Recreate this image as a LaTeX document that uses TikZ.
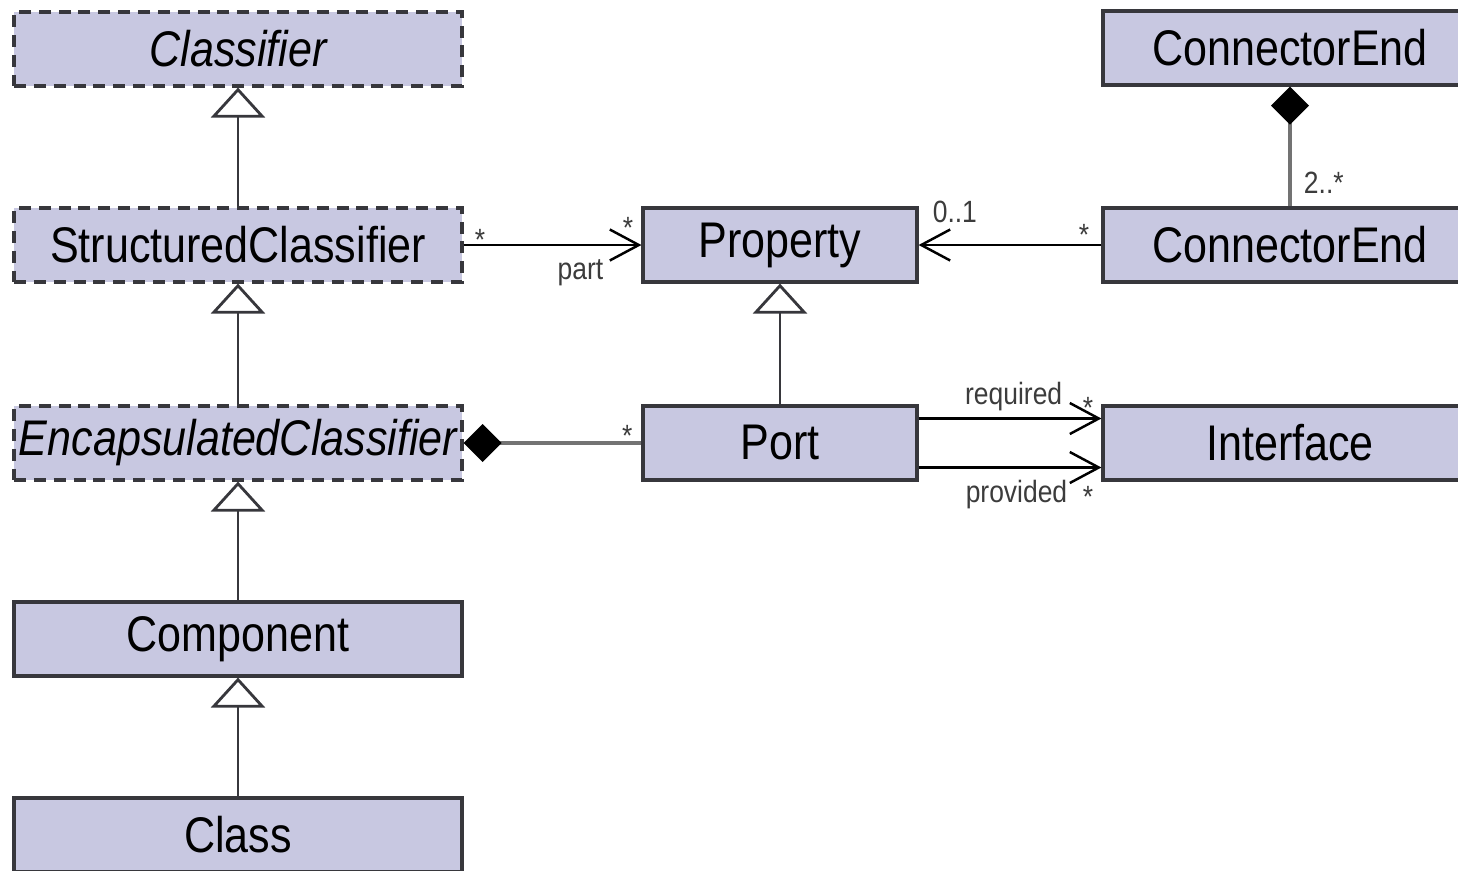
\documentclass[tikz,border=0pt]{standalone}
\usepackage{fontspec}
\setmainfont{Liberation Sans}[FakeStretch=0.86]
\usetikzlibrary{arrows.meta}

\definecolor{umlfill}{RGB}{200,200,225}
\definecolor{boxline}{RGB}{55,55,60}
\definecolor{labelgray}{RGB}{60,60,60}
\definecolor{partline}{RGB}{115,115,115}

\tikzset{
	cls/.style={draw=boxline, line width=1.8pt, fill=umlfill, minimum width=8.96cm, minimum height=1.48cm, inner sep=0pt, font=\fontsize{28.5}{30}\selectfont},
	abstractcls/.style={cls, dash pattern=on 6.8pt off 4.5pt},
	mult/.style={font=\fontsize{17.5}{18}\selectfont, text=labelgray, inner sep=0pt},
	inherit/.style={-{Triangle[open, fill=white, length=0.6cm, width=1.08cm]}, line width=1.6pt, draw=boxline},
	assoc/.style={-{Straight Barb[length=0.58cm, width=0.62cm]}, line width=1.4pt},
	compose/.style={{Diamond[length=0.76cm, width=0.76cm, color=black, fill=black]}-, line width=2.2pt, draw=partline},
}

\begin{document}
\begin{tikzpicture}
	\useasboundingbox (0,0) rectangle (29.16,-17.4);
	% classifier hierarchy
	\node[abstractcls] (classifier) at (4.76,-0.98) {\itshape Classifier};
	\node[abstractcls] (structured) at (4.76,-4.9) {StructuredClassifier};
	\node[abstractcls] (encapsulated) at (4.76,-8.86) {\itshape EncapsulatedClassifier};
	\node[cls] (component) at (4.76,-12.78) {Component};
	\node[cls] (class) at (4.76,-16.7) {Class};
	% property and port
	\node[cls, minimum width=5.48cm] (property) at (15.6,-4.9) {Property};
	\node[cls, minimum width=5.48cm] (port) at (15.6,-8.86) {Port};
	% right column
	\node[cls, minimum width=7.48cm] (endtop) at (25.8,-0.96) {ConnectorEnd};
	\node[cls, minimum width=7.48cm] (endmid) at (25.8,-4.9) {ConnectorEnd};
	\node[cls, minimum width=7.48cm] (interface) at (25.8,-8.86) {Interface};

	% generalizations
	\draw[inherit] (structured) -- (classifier);
	\draw[inherit] (encapsulated) -- (structured);
	\draw[inherit] (component) -- (encapsulated);
	\draw[inherit] (class) -- (component);
	\draw[inherit] (port) -- (property);

	% associations
	\draw[assoc] (structured) -- (property)
		node[mult, pos=0, anchor=base west, shift={(0.2,-0.1)}] {*}
		node[mult, pos=1, anchor=base east, shift={(-0.14,0.14)}] {*}
		node[mult, pos=1, anchor=base east, shift={(-0.74,-0.68)}] {part};
	\draw[assoc] (endmid) -- (property)
		node[mult, pos=0, anchor=base east, shift={(-0.22,0)}] {*}
		node[mult, pos=1, anchor=base west, shift={(0.26,0.46)}] {0..1};
	\draw[assoc] ([yshift=0.49cm]port.east) -- ([yshift=0.49cm]interface.west)
		node[mult, pos=1, anchor=base east, shift={(-0.76,0.28)}] {required}
		node[mult, pos=1, anchor=base east, shift={(-0.14,0)}] {*};
	\draw[assoc] ([yshift=-0.49cm]port.east) -- ([yshift=-0.49cm]interface.west)
		node[mult, pos=1, anchor=base east, shift={(-0.66,-0.7)}] {provided}
		node[mult, pos=1, anchor=base east, shift={(-0.14,-0.8)}] {*};

	% compositions
	\draw[compose] (encapsulated) -- (port)
		node[mult, pos=1, anchor=base east, shift={(-0.14,-0.06)}] {*};
	\draw[compose] (endtop) -- (endmid)
		node[mult, pos=1, anchor=base west, shift={(0.24,0.26)}] {2..*};
\end{tikzpicture}
\end{document}
